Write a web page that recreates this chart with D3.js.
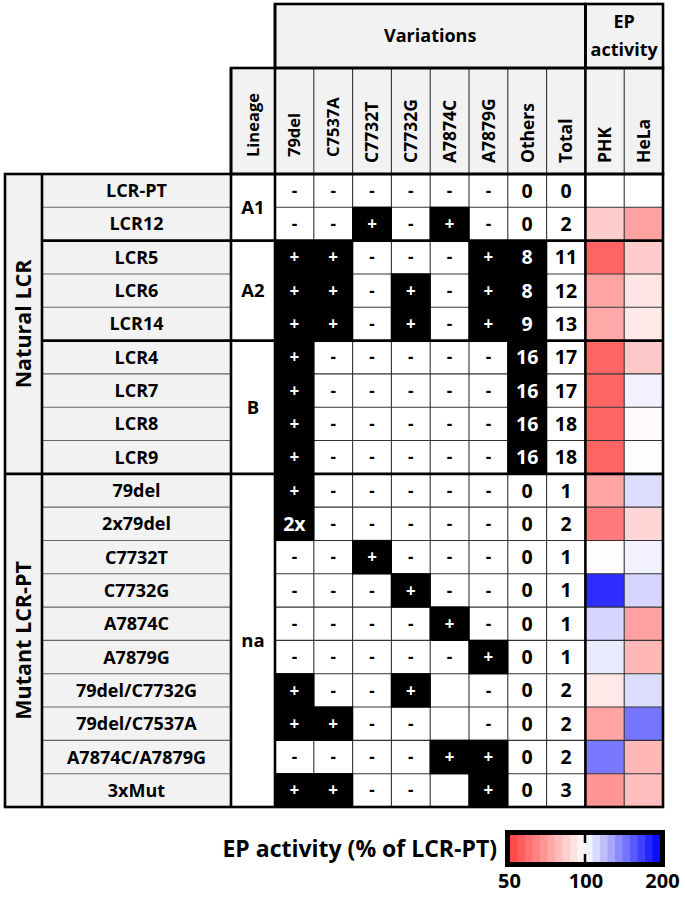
<!DOCTYPE html>
<html>
<head>
<meta charset="utf-8">
<script src="https://cdn.jsdelivr.net/npm/d3@7"></script>
<style>
  body { margin: 0; background: #fff; }
  text { font-family: "Open Sans", sans-serif; font-weight: bold; }
</style>
</head>
<body>
<div id="graf"></div>
<script>
// I. Datos
rowNames = ['LCR-PT', 'LCR12', 'LCR5', 'LCR6', 'LCR14', 'LCR4', 'LCR7', 'LCR8', 'LCR9',
  '79del', '2x79del', 'C7732T', 'C7732G', 'A7874C', 'A7879G',
  '79del/C7732G', '79del/C7537A', 'A7874C/A7879G', '3xMut']

groupLabels = ['Natural LCR', 'Mutant LCR-PT']
groupSizes  = [9, 10]

lineageLabels = ['A1', 'A2', 'B', 'na']
lineageSizes  = [2, 3, 4, 10]

varCols = ['79del', 'C7537A', 'C7732T', 'C7732G', 'A7874C', 'A7879G']

// '+' presente, '-' ausente, '' vacio
varMarks = [
  ['-', '-', '-', '-', '-', '-'],
  ['-', '-', '+', '-', '+', '-'],
  ['+', '+', '-', '-', '-', '+'],
  ['+', '+', '-', '+', '-', '+'],
  ['+', '+', '-', '+', '-', '+'],
  ['+', '-', '-', '-', '-', '-'],
  ['+', '-', '-', '-', '-', '-'],
  ['+', '-', '-', '-', '-', '-'],
  ['+', '-', '-', '-', '-', '-'],
  ['+', '-', '-', '-', '-', '-'],
  ['2x', '-', '-', '-', '-', '-'],
  ['-', '-', '+', '-', '-', '-'],
  ['-', '-', '-', '+', '-', '-'],
  ['-', '-', '-', '-', '+', '-'],
  ['-', '-', '-', '-', '-', '+'],
  ['+', '-', '-', '+', '', '-'],
  ['+', '+', '-', '-', '', '-'],
  ['-', '-', '-', '-', '+', '+'],
  ['+', '+', '-', '-', '', '+']
]

others = [0, 0, 8, 8, 9, 16, 16, 16, 16, 0, 0, 0, 0, 0, 0, 0, 0, 0, 0]
total  = [0, 2, 11, 12, 13, 17, 17, 18, 18, 1, 2, 1, 1, 1, 1, 2, 2, 2, 3]

// EP activity (% de LCR-PT)
phk  = [100, 83, 57, 72, 73, 57, 57, 57, 57, 72, 62, 99, 177, 112, 106, 92, 72, 144, 68]
hela = [100, 71, 83, 91, 92, 82, 104, 98, 99, 110, 86, 104, 112, 71, 77, 110, 146, 77, 79]

legendTicks = [50, 100, 200]

// II. Configuracion
ancho = 685
alto = 897

grpX0 = 5
nameX0 = 42
linX0 = 231
valX0 = 275
valX1 = 663
headTop = 4
head2Top = 68
bodyTop = 174
bodyBot = 807

gris = '#f2f2f2'
thick = 2.6
thin = 1.1

svg = d3.select('#graf').append('svg')
  .attr('width', ancho)
  .attr('height', alto)

colKeys = varCols.concat(['Others', 'Total', 'PHK', 'HeLa'])

x = d3.scaleBand().domain(colKeys).range([valX0, valX1])
y = d3.scaleBand().domain(d3.range(rowNames.length)).range([bodyTop, bodyBot])
bw = x.bandwidth()
bh = y.bandwidth()

heat = d3.scaleLog()
  .domain([50, 100, 200])
  .range(['#ff4040', '#ffffff', '#0000ff'])
  .clamp(true)

// tabla de celdas
cells = []
rowNames.forEach((n, i) => {
  varCols.forEach((c, j) => {
    let m = varMarks[i][j]
    cells.push({ row: i, col: c, text: m, black: m == '+' || m == '2x' })
  })
  cells.push({ row: i, col: 'Others', text: others[i], black: others[i] > 0 })
  cells.push({ row: i, col: 'Total', text: total[i], black: false })
  cells.push({ row: i, col: 'PHK', text: '', fill: heat(phk[i]) })
  cells.push({ row: i, col: 'HeLa', text: '', fill: heat(hela[i]) })
})

// grupos acumulados
function spans(sizes) {
  let s = 0
  return sizes.map(n => { let r = { from: s, to: s + n }; s += n; return r })
}
groupSpans = spans(groupSizes)
lineageSpans = spans(lineageSizes)

// III. Fondos
gBg = svg.append('g')

// encabezados
gBg.append('rect')
  .attr('x', valX0).attr('y', headTop)
  .attr('width', x('PHK') - valX0).attr('height', head2Top - headTop)
  .attr('fill', gris)
gBg.append('rect')
  .attr('x', x('PHK')).attr('y', headTop)
  .attr('width', valX1 - x('PHK')).attr('height', head2Top - headTop)
  .attr('fill', gris)
gBg.append('rect')
  .attr('x', linX0).attr('y', head2Top)
  .attr('width', valX1 - linX0).attr('height', bodyTop - head2Top)
  .attr('fill', gris)

// columna de grupos y nombres
gBg.append('rect')
  .attr('x', grpX0).attr('y', bodyTop)
  .attr('width', linX0 - grpX0).attr('height', bodyBot - bodyTop)
  .attr('fill', gris)
gBg.append('rect')
  .attr('x', linX0).attr('y', bodyTop)
  .attr('width', valX0 - linX0).attr('height', bodyBot - bodyTop)
  .attr('fill', '#fff')

gBg.selectAll('rect.cell')
  .data(cells)
  .enter()
  .append('rect')
    .attr('class', 'cell')
    .attr('x', d => x(d.col))
    .attr('y', d => y(d.row))
    .attr('width', bw)
    .attr('height', bh)
    .attr('fill', d => d.fill || '#fff')

// lineas finas
gThin = svg.append('g')
  .attr('stroke', '#333')
  .attr('stroke-width', thin)

d3.range(1, rowNames.length).forEach(i => {
  gThin.append('line')
    .attr('x1', nameX0).attr('x2', linX0)
    .attr('y1', y(i)).attr('y2', y(i))
    .attr('stroke', '#666')
  gThin.append('line')
    .attr('x1', valX0).attr('x2', valX1)
    .attr('y1', y(i)).attr('y2', y(i))
})
colKeys.slice(1).forEach(c => {
  gThin.append('line')
    .attr('x1', x(c)).attr('x2', x(c))
    .attr('y1', head2Top).attr('y2', bodyBot)
})

// celdas negras encima de las lineas finas
svg.append('g').selectAll('rect')
  .data(cells.filter(d => d.black))
  .enter()
  .append('rect')
    .attr('x', d => x(d.col) - 0.6)
    .attr('y', d => y(d.row) - 0.6)
    .attr('width', bw + 1.2)
    .attr('height', bh + 1.2)
    .attr('fill', '#000')

// IV. Textos
gTxt = svg.append('g')

gTxt.selectAll('text.val')
  .data(cells.filter(d => d.text !== ''))
  .enter()
  .append('text')
    .attr('class', 'val')
    .attr('x', d => x(d.col) + bw / 2)
    .attr('y', d => y(d.row) + bh / 2)
    .attr('dy', '0.36em')
    .attr('text-anchor', 'middle')
    .attr('font-size', d => (d.text == '+' || d.text == '-') ? '17px' : '19.5px')
    .attr('fill', d => d.black ? '#fff' : '#000')
    .text(d => d.text)

gTxt.selectAll('text.name')
  .data(rowNames)
  .enter()
  .append('text')
    .attr('class', 'name')
    .attr('x', (nameX0 + linX0) / 2)
    .attr('y', (d, i) => y(i) + bh / 2)
    .attr('dy', '0.36em')
    .attr('text-anchor', 'middle')
    .attr('font-size', '18px')
    .text(d => d)

gTxt.selectAll('text.lin')
  .data(lineageSpans)
  .enter()
  .append('text')
    .attr('class', 'lin')
    .attr('x', (linX0 + valX0) / 2)
    .attr('y', d => (y(d.from) + y(d.to - 1) + bh) / 2)
    .attr('dy', '0.36em')
    .attr('text-anchor', 'middle')
    .attr('font-size', '18.5px')
    .text((d, i) => lineageLabels[i])

gTxt.selectAll('text.grp')
  .data(groupSpans)
  .enter()
  .append('text')
    .attr('class', 'grp')
    .attr('transform', d => `translate(${(grpX0 + nameX0) / 2}, ${(y(d.from) + y(d.to - 1) + bh) / 2}) rotate(-90)`)
    .attr('dy', '0.36em')
    .attr('text-anchor', 'middle')
    .attr('font-size', '21.5px')
    .text((d, i) => groupLabels[i])

// encabezados rotados (los tres primeros van algo mas chicos y altos)
headCols = [{ key: 'Lineage', cx: (linX0 + valX0) / 2 }]
  .concat(colKeys.map(c => ({ key: c, cx: x(c) + bw / 2 })))
headCols.forEach((d, i) => { d.small = i < 3 })

gTxt.selectAll('text.head')
  .data(headCols)
  .enter()
  .append('text')
    .attr('class', 'head')
    .attr('transform', d => `translate(${d.cx}, ${d.small ? bodyTop - 17 : bodyTop - 11}) rotate(-90)`)
    .attr('dy', '0.36em')
    .attr('text-anchor', 'start')
    .attr('font-size', d => d.small ? '16.5px' : '17.5px')
    .text(d => d.key)

gTxt.append('text')
  .attr('x', (valX0 + x('PHK')) / 2)
  .attr('y', (headTop + head2Top) / 2)
  .attr('dy', '0.36em')
  .attr('text-anchor', 'middle')
  .attr('font-size', '18px')
  .text('Variations')

epHead = gTxt.append('text')
  .attr('x', (x('PHK') + valX1) / 2)
  .attr('text-anchor', 'middle')
  .attr('font-size', '18px')
epHead.append('tspan').attr('x', (x('PHK') + valX1) / 2).attr('y', 28).text('EP')
epHead.append('tspan').attr('x', (x('PHK') + valX1) / 2).attr('y', 56).text('activity')

// V. Lineas gruesas
gThick = svg.append('g')
  .attr('stroke', '#000')
  .attr('stroke-width', thick)
  .attr('fill', 'none')

function caja(x0, y0, x1, y1) {
  gThick.append('rect')
    .attr('x', x0).attr('y', y0)
    .attr('width', x1 - x0).attr('height', y1 - y0)
}
function linea(x0, y0, x1, y1) {
  gThick.append('line')
    .attr('x1', x0).attr('y1', y0)
    .attr('x2', x1).attr('y2', y1)
}

caja(valX0, headTop, x('PHK'), head2Top)
caja(x('PHK'), headTop, valX1, head2Top)
caja(linX0, head2Top, valX1, bodyTop)
caja(grpX0, bodyTop, valX1, bodyBot)

linea(nameX0, bodyTop, nameX0, bodyBot)
linea(linX0, head2Top, linX0, bodyBot)
linea(valX0, headTop, valX0, bodyBot)
linea(x('PHK'), headTop, x('PHK'), bodyBot)

lineageSpans.slice(1).forEach(s => {
  let yy = y(s.from)
  let isGroup = groupSpans.some(g => g.from == s.from)
  linea(isGroup ? grpX0 : nameX0, yy, valX1, yy)
})

// VI. Leyenda
legX = d3.scaleLog().domain([50, 200]).range([509, 662])
barX0 = 510
barX1 = 660
legTop = 835
legH = 27

gLeg = svg.append('g')

steps = 20
legBands = d3.range(steps).map(i => {
  let a = Math.log2(50) + (i / steps) * 2
  let b = Math.log2(50) + ((i + 1) / steps) * 2
  return { v0: Math.pow(2, a), v1: Math.pow(2, b), vm: Math.pow(2, (a + b) / 2) }
})
bandX = d3.scaleLog().domain([50, 200]).range([barX0, barX1])

gLeg.selectAll('rect.band')
  .data(legBands)
  .enter()
  .append('rect')
    .attr('class', 'band')
    .attr('x', d => bandX(d.v0))
    .attr('y', legTop)
    .attr('width', d => bandX(d.v1) - bandX(d.v0) + 0.5)
    .attr('height', legH)
    .attr('fill', d => heat(d.vm))

gLeg.append('rect')
  .attr('x', barX0 - 2.5).attr('y', legTop - 2.5)
  .attr('width', barX1 - barX0 + 5).attr('height', legH + 5)
  .attr('fill', 'none')
  .attr('stroke', '#000')
  .attr('stroke-width', 5)

gLeg.append('line')
  .attr('x1', bandX(100)).attr('x2', bandX(100))
  .attr('y1', legTop).attr('y2', legTop + 8)
  .attr('stroke', '#000').attr('stroke-width', 2.5)
gLeg.append('line')
  .attr('x1', bandX(100)).attr('x2', bandX(100))
  .attr('y1', legTop + legH - 8).attr('y2', legTop + legH)
  .attr('stroke', '#000').attr('stroke-width', 2.5)

legAxis = d3.axisBottom(legX)
  .tickValues(legendTicks)
  .tickFormat(d3.format('d'))
  .tickSize(0)
  .tickPadding(0)

gLegAxis = gLeg.append('g')
  .attr('transform', `translate(0, ${legTop + legH + 12})`)
  .call(legAxis)
gLegAxis.select('.domain').remove()
gLegAxis.selectAll('text')
  .attr('font-size', '20px')
  .attr('font-family', '"Open Sans", sans-serif')
  .attr('font-weight', 'bold')
  .attr('fill', '#000')

gLeg.append('text')
  .attr('x', 497)
  .attr('y', legTop + legH / 2)
  .attr('dy', '0.36em')
  .attr('text-anchor', 'end')
  .attr('font-size', '23px')
  .text('EP activity (% of LCR-PT)')
</script>
</body>
</html>
